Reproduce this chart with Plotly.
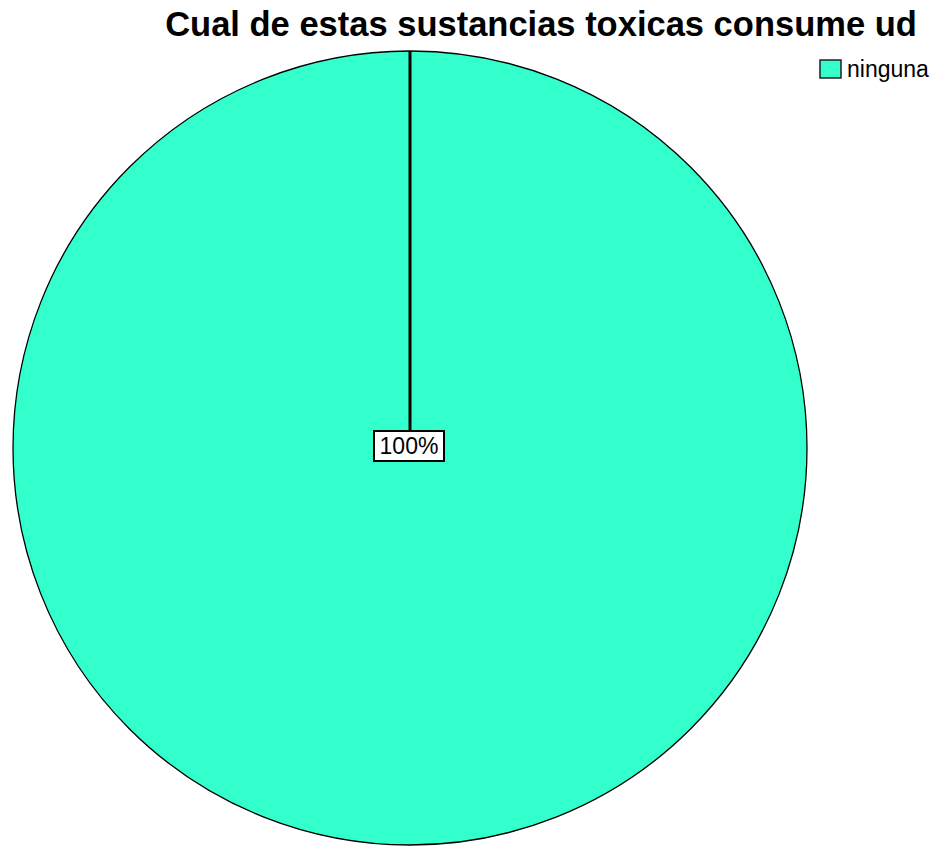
import plotly.graph_objects as go

# Data
categories = ["ninguna"]
values = [100]
colors = ["#33FFCC"]

title_text = "Cual de estas sustancias toxicas consume ud"

W, H = 936, 848

# Pie placement in pixels (converted to paper fractions below)
pie_left, pie_right = 12, 808
pie_top, pie_bottom = 51, 845

dom_x = [pie_left / W, pie_right / W]
dom_y = [1 - pie_bottom / H, 1 - pie_top / H]

fig = go.Figure()
fig.add_trace(go.Pie(
    labels=categories,
    values=values,
    marker=dict(colors=colors, line=dict(color="black", width=1.3)),
    textinfo="none",
    sort=False,
    direction="clockwise",
    rotation=0,
    domain=dict(x=dom_x, y=dom_y),
    showlegend=False,
    hoverinfo="label+percent",
))

# Geometry of the drawn circle (plotly fits to the smaller side of the domain)
dom_w_px = (dom_x[1] - dom_x[0]) * W
dom_h_px = (dom_y[1] - dom_y[0]) * H
radius_px = min(dom_w_px, dom_h_px) / 2
cx = (dom_x[0] + dom_x[1]) / 2
cy = (dom_y[0] + dom_y[1]) / 2

# Slice boundary line from the centre to the start angle (top)
total = sum(values)
fig.add_shape(
    type="line", xref="paper", yref="paper",
    x0=cx, y0=cy, x1=cx, y1=cy + radius_px / H,
    line=dict(color="black", width=3),
)

# Percentage label in a boxed tag at the centre
pct_text = f"{100 * values[0] / total:.0f}%"
fig.add_annotation(
    x=cx - 1 / W, y=cy + 2.5 / H, xref="paper", yref="paper",
    text=pct_text, showarrow=False,
    font=dict(family="Arial, Liberation Sans", size=23, color="black"),
    bgcolor="white", bordercolor="black", borderwidth=2,
    width=68, height=28, borderpad=0,
    xanchor="center", yanchor="middle",
)

# Legend: swatch + label
sw_x0, sw_x1 = 820, 841
sw_y0, sw_y1 = 60, 78
for i, (cat, col) in enumerate(zip(categories, colors)):
    fig.add_shape(
        type="rect", xref="paper", yref="paper",
        x0=sw_x0 / W, x1=sw_x1 / W,
        y0=1 - (sw_y1 + i * 26) / H, y1=1 - (sw_y0 + i * 26) / H,
        fillcolor=col, line=dict(color="#222222", width=1.5),
    )
    fig.add_annotation(
        x=845 / W, y=1 - (69 + i * 26) / H, xref="paper", yref="paper",
        text=cat, showarrow=False,
        font=dict(family="Arial, Liberation Sans", size=23, color="black"),
        xanchor="left", yanchor="middle",
    )

fig.update_layout(
    width=W, height=H,
    margin=dict(l=0, r=0, t=0, b=0),
    paper_bgcolor="white",
    plot_bgcolor="white",
    title=dict(
        text=f"<b>{title_text}</b>",
        x=541 / W, xanchor="center",
        y=1 - 24 / H, yanchor="middle",
        xref="paper", yref="container",
        font=dict(family="Arial, Liberation Sans", size=34.5, color="black"),
    ),
)

fig.write_html("out.html")
